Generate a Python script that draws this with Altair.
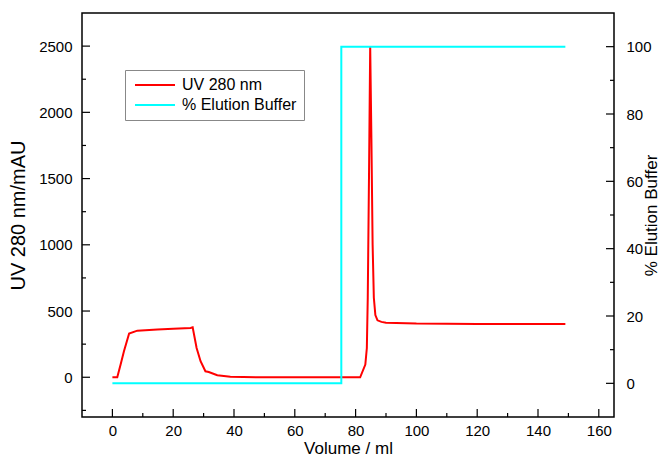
import altair as alt
import pandas as pd

# UV 280 nm trace (Volume ml, mAU)
uv_volume = [0, 1.6, 2.7, 3.8, 5.5, 8.2, 14.8, 20.0, 25.7, 26.4, 27.7, 29.0, 30.6, 31.7, 34.5, 38.8,
             50, 60, 70, 78, 81.5, 83.2, 83.7, 84.0, 84.4, 84.8, 85.2, 85.6, 86.0, 86.5, 87.2,
             88.5, 90, 100, 120, 149]
uv_signal = [0, 0, 96, 196, 330, 352, 360, 366, 372, 377, 221, 121, 45, 40, 15, 3,
             0, 0, 0, 0, 0, 96, 221, 600, 1500, 2500, 1800, 1000, 600, 470, 430,
             418, 412, 405, 403, 403]

# % Elution buffer trace
buf_volume = [0, 75.3, 75.3, 149]
buf_percent = [0, 0, 100, 100]

x_major = [0, 20, 40, 60, 80, 100, 120, 140, 160]
x_minor = [10, 30, 50, 70, 90, 110, 130, 150]
left_major = [0, 500, 1000, 1500, 2000, 2500]
left_minor = [-250, 250, 750, 1250, 1750, 2250]
right_major = [0, 20, 40, 60, 80, 100]
right_minor = [10, 30, 50, 70, 90]

S1 = "UV 280 nm"
S2 = "% Elution Buffer"

W, H = 532, 404
XDOM = [-10, 165]
LDOM = [-300, 2750]
RDOM = [-10, 110]
FONT = "Liberation Sans"
LAB = 15

uv_df = pd.DataFrame({"v": uv_volume, "uv": uv_signal, "series": S1})
buf_df = pd.DataFrame({"v": buf_volume, "pct": buf_percent, "series": S2})

xs = alt.Scale(domain=XDOM, nice=False, zero=False)
ls = alt.Scale(domain=LDOM, nice=False, zero=False)
rs = alt.Scale(domain=RDOM, nice=False, zero=False)

color = alt.Color(
    "series:N",
    scale=alt.Scale(domain=[S1, S2], range=["#ff0000", "#00ffff"]),
    legend=alt.Legend(
        title=None, orient="none", legendX=43, legendY=57,
        symbolType="M-1,0H7", symbolSize=100, symbolStrokeWidth=2,
        labelFont=FONT, labelFontSize=16, labelColor="#000000", labelOffset=34,
        strokeColor="#888888", padding=7, rowPadding=4, fillColor="white",
    ),
)

xaxis = alt.Axis(
    title="Volume / ml", values=x_major, ticks=False, grid=False, domain=False,
    format="d", labelPadding=6, titlePadding=2, labelFont=FONT, titleFont=FONT,
    labelFontSize=LAB, titleFontSize=17, titleFontWeight="normal",
    labelColor="#000000", titleColor="#000000",
)

uv_line = alt.Chart(uv_df).mark_line(strokeWidth=2).encode(
    x=alt.X("v:Q", scale=xs, axis=xaxis),
    y=alt.Y("uv:Q", scale=ls, axis=alt.Axis(
        title="UV 280 nm/mAU", orient="left", values=left_major, ticks=False,
        grid=False, domain=False, format="d", labelPadding=10, titlePadding=10,
        labelFont=FONT, titleFont=FONT, labelFontSize=LAB, titleFontSize=20,
        titleFontWeight="normal", labelColor="#000000", titleColor="#000000")),
    color=color,
)

def xtick(vals, length):
    df = pd.DataFrame({"v": vals})
    return alt.Chart(df).mark_rule(color="#000000", strokeWidth=1.2).encode(
        x=alt.X("v:Q", scale=xs), y=alt.value(H), y2=alt.value(H - length))

def ltick(vals, length):
    df = pd.DataFrame({"uv": vals})
    return alt.Chart(df).mark_rule(color="#000000", strokeWidth=1.2).encode(
        y=alt.Y("uv:Q", scale=ls), x=alt.value(0), x2=alt.value(length))

def rtick(vals, length):
    df = pd.DataFrame({"pct": vals})
    return alt.Chart(df).mark_rule(color="#000000", strokeWidth=1.2).encode(
        y=alt.Y("pct:Q", scale=rs), x=alt.value(W), x2=alt.value(W - length))

left = alt.layer(uv_line, ltick(left_major, 8), ltick(left_minor, 4),
                 xtick(x_major, 8), xtick(x_minor, 4))

buf_line = alt.Chart(buf_df).mark_line(strokeWidth=2).encode(
    x=alt.X("v:Q", scale=xs),
    y=alt.Y("pct:Q", scale=rs, axis=alt.Axis(
        title="% Elution Buffer", orient="right", values=right_major, ticks=False,
        grid=False, domain=False, format="d", labelPadding=12, titlePadding=9,
        titleAngle=270, labelFont=FONT, titleFont=FONT, labelFontSize=LAB,
        titleFontSize=17, titleFontWeight="normal", labelColor="#000000",
        titleColor="#000000")),
    color=color,
)

right = alt.layer(buf_line, rtick(right_major, 8), rtick(right_minor, 4))

chart = alt.layer(left, right).resolve_scale(y="independent").properties(
    width=W, height=H,
    autosize=alt.AutoSizeParams(type="none"),
    padding={"left": 74, "top": 5, "right": 48, "bottom": 40},
    background="white",
).configure_view(stroke="#000000", strokeWidth=1.5)

chart.save("out.html", embed_options={"renderer": "svg", "actions": False})
